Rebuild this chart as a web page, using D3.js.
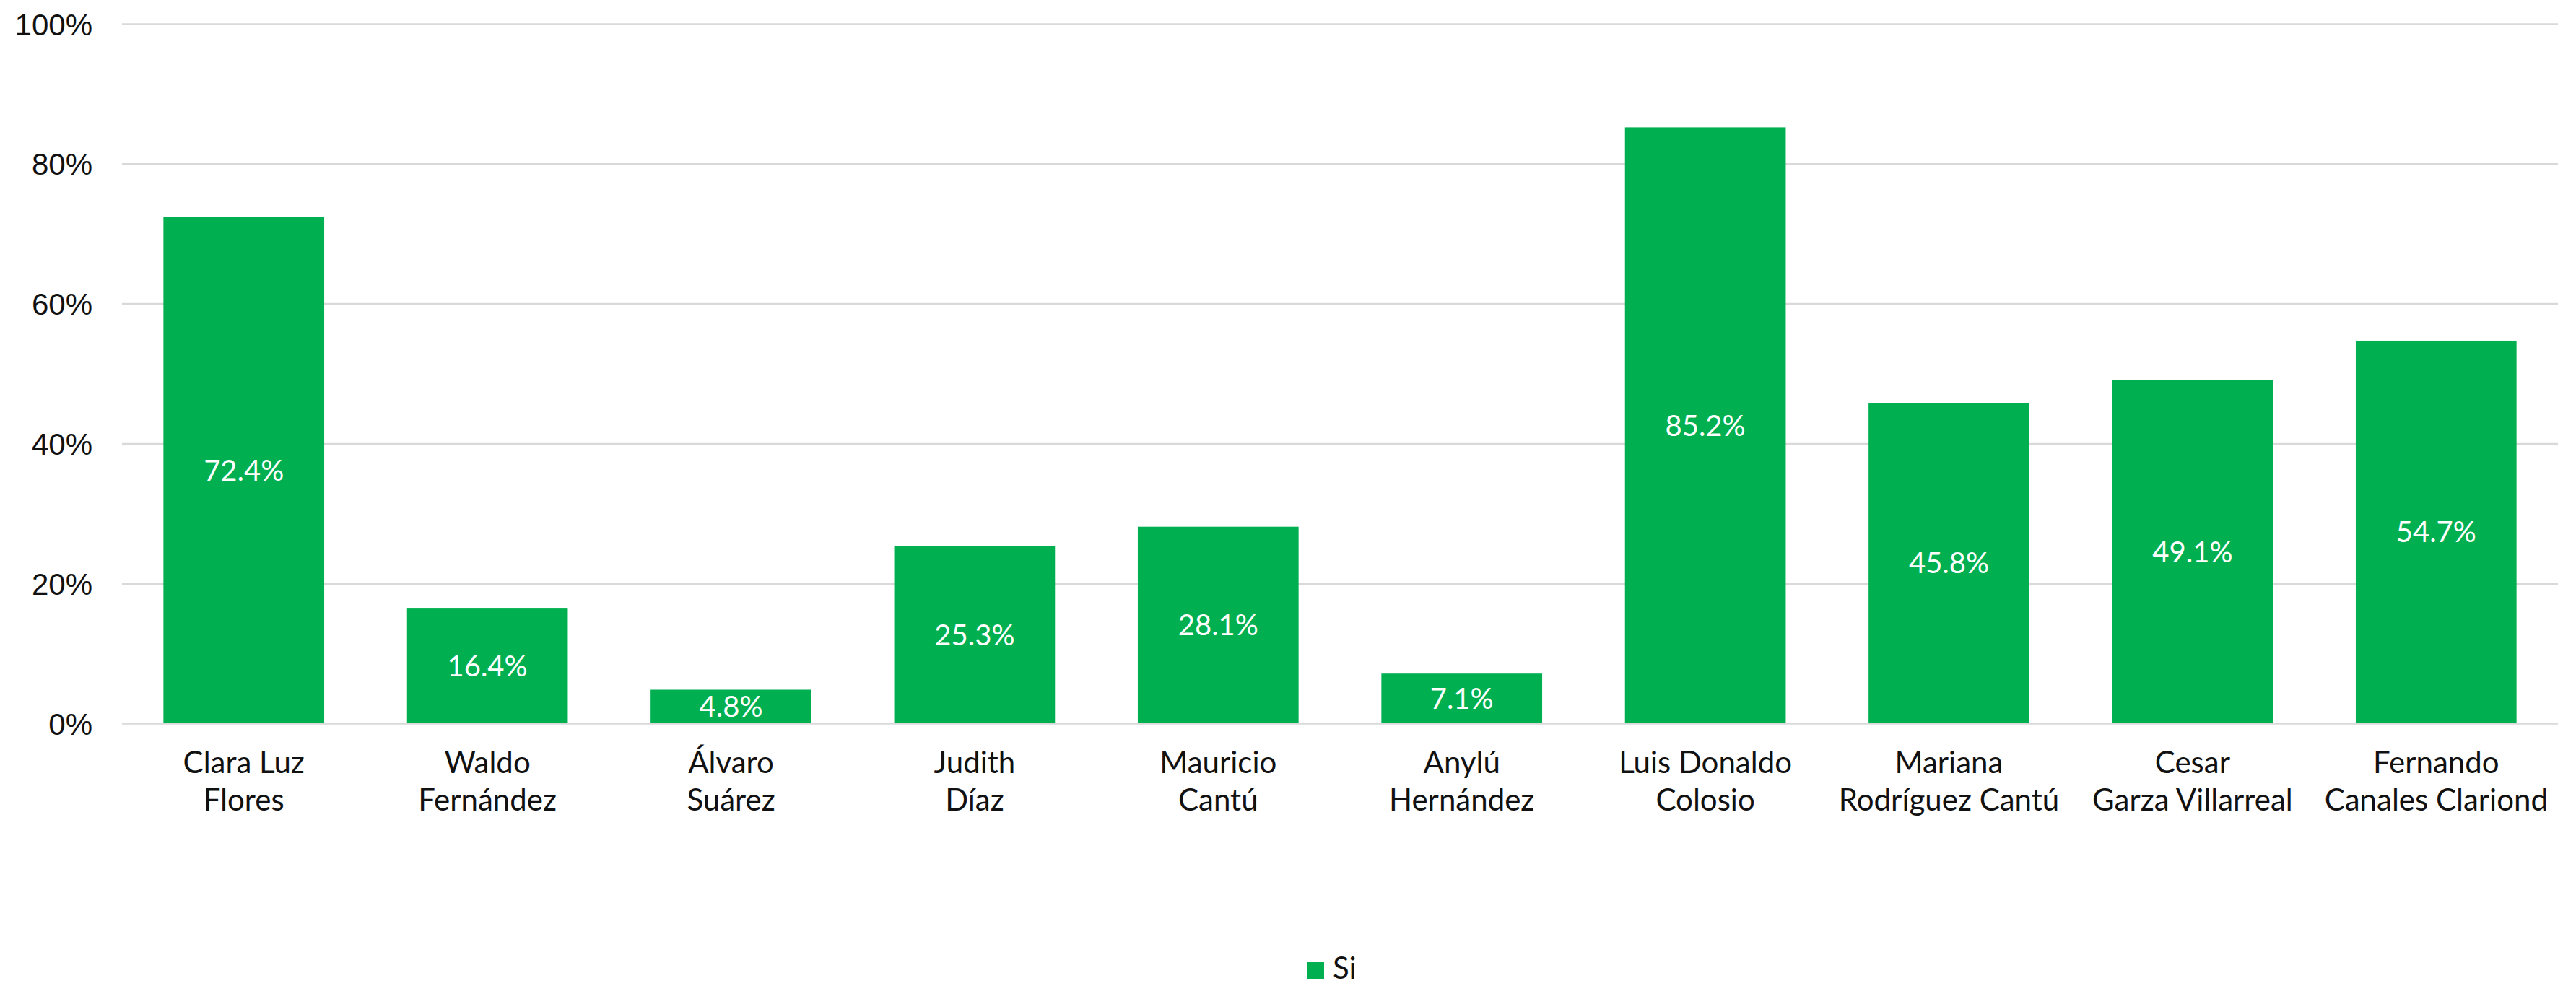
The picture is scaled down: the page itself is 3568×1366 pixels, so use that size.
<!DOCTYPE html>
<html>
<head>
<meta charset="utf-8">
<script src="https://cdn.jsdelivr.net/npm/d3@7"></script>
<style>
  html, body { margin: 0; padding: 0; background: #fff; }
  svg { display: block; font-family: Lato, 'Noto Sans', sans-serif; }
  .grid line { stroke: #d9d9d9; stroke-width: 2.5; }
  .tick text { fill: #111; font-size: 42px; }
</style>
</head>
<body>
<svg id="chart" width="3568" height="1366"></svg>
<script>
// categories (two lines each, as on the axis)
const categories = [
  ['Clara Luz', 'Flores'],
  ['Waldo', 'Fernández'],
  ['Álvaro', 'Suárez'],
  ['Judith', 'Díaz'],
  ['Mauricio', 'Cantú'],
  ['Anylú', 'Hernández'],
  ['Luis Donaldo', 'Colosio'],
  ['Mariana', 'Rodríguez Cantú'],
  ['Cesar', 'Garza Villarreal'],
  ['Fernando', 'Canales Clariond']
]
// series "Si", percent
const siValues = [72.4, 16.4, 4.8, 25.3, 28.1, 7.1, 85.2, 45.8, 49.1, 54.7]
const yTicks = [0, 20, 40, 60, 80, 100]
const seriesName = 'Si'
const green = '#00b050'

let svg = d3.select('#chart')
let margin = {top: 33, right: 25, bottom: 364, left: 169}
let width = 3568 - margin.left - margin.right
let height = 1366 - margin.top - margin.bottom

let keys = categories.map((c) => c.join(' '))

let x = d3.scaleBand().domain(keys).range([0, width])
  .paddingInner(0.34).paddingOuter(0.17)
let y = d3.scaleLinear().domain([0, 100]).range([height, 0])

let g = svg.append('g')
  .attr('transform', 'translate(' + margin.left + ',' + margin.top + ')')

// gridlines
g.append('g')
  .attr('class', 'grid')
  .call(d3.axisLeft(y).tickValues(yTicks).tickSize(-width).tickFormat(''))
  .call((s) => s.select('.domain').remove())

// y axis labels
g.append('g')
  .call(d3.axisLeft(y).tickValues(yTicks).tickSize(0).tickPadding(41).tickFormat((d) => d + '%'))
  .call((s) => s.select('.domain').remove())
  .selectAll('text').attr('dy', '0.36em')

// bars
g.selectAll('.bar').data(siValues).enter().append('rect')
  .attr('class', 'bar')
  .attr('x', (d, i) => x(keys[i]))
  .attr('width', x.bandwidth())
  .attr('y', (d) => y(d))
  .attr('height', (d) => height - y(d))
  .attr('fill', green)

// value labels, centred in bars
g.selectAll('.val').data(siValues).enter().append('text')
  .attr('class', 'val')
  .attr('x', (d, i) => x(keys[i]) + x.bandwidth() / 2)
  .attr('y', (d) => (y(d) + height) / 2)
  .attr('dy', '0.36em')
  .attr('text-anchor', 'middle')
  .attr('fill', '#fff')
  .style('font-size', '40px')
  .text((d) => d.toFixed(1) + '%')

// x axis labels
let xl = g.append('g').attr('transform', 'translate(0,' + height + ')')
categories.forEach(function (c, i) {
  let t = xl.append('text')
    .attr('x', x(keys[i]) + x.bandwidth() / 2)
    .attr('text-anchor', 'middle')
    .attr('fill', '#111')
    .style('font-size', '42px')
  c.forEach(function (line, j) {
    t.append('tspan')
      .attr('x', x(keys[i]) + x.bandwidth() / 2)
      .attr('y', 69 + j * 52)
      .text(line)
  })
})

// legend
let lg = svg.append('g').attr('transform', 'translate(1811,1333)')
lg.append('rect').attr('width', 23).attr('height', 23).attr('fill', green)
lg.append('text')
  .attr('x', 35).attr('y', 23)
  .attr('fill', '#111')
  .style('font-size', '42px')
  .text(seriesName)
</script>
</body>
</html>
